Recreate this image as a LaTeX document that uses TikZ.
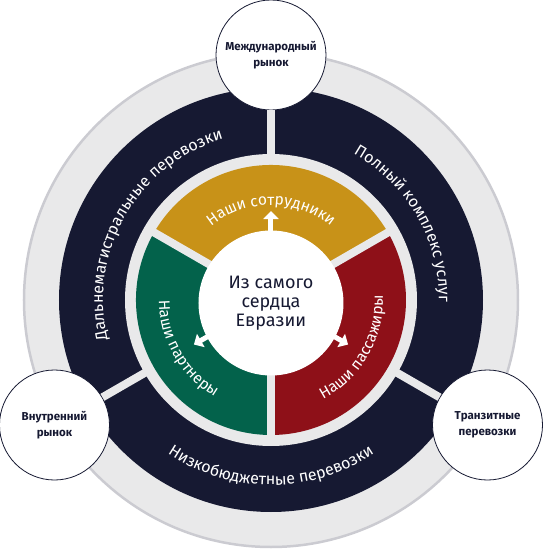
\documentclass[tikz,border=0pt]{standalone}
\usepackage{fontspec}
\setmainfont{Fira Sans}
\usetikzlibrary{positioning, arrows.meta, decorations.text}

\definecolor{navy}{RGB}{22,25,50}
\definecolor{gold}{RGB}{200,146,24}
\definecolor{forest}{RGB}{3,98,75}
\definecolor{crimson}{RGB}{142,16,24}
\definecolor{ringgray}{RGB}{233,233,234}
\definecolor{edgegray}{RGB}{203,203,209}

\newcommand{\ringfont}{\fontsize{16}{16}\selectfont}
\newcommand{\segfont}{\fontsize{15.5}{15.5}\selectfont}

\tikzstyle{market} = [circle, draw=navy, line width=0.8pt, fill=white, minimum size=110pt, inner sep=0pt, align=center, text=navy, font=\fontsize{11.5}{16}\selectfont\bfseries]
\tikzstyle{gap} = [ringgray, line width=8pt]
\tikzstyle{outarrow} = [white, line width=5pt, -{Triangle[width=15pt,length=8pt]}]
\tikzstyle{arctext} = [decorate, decoration={text along path, text align=center, text color=white}]

\begin{document}
\begin{tikzpicture}[x=1pt, y=1pt]
  \useasboundingbox (-271,-255) rectangle (273,300);

  % Rings
  \draw[fill=ringgray, draw=edgegray, line width=2.5pt] (0,0) circle (247pt);
  \fill[navy] (0,0) circle (212pt);
  \fill[ringgray] (0,0) circle (146pt);

  % Inner segments
  \fill[gold] (0,0) -- (30:135pt) arc[start angle=30, end angle=150, radius=135pt] -- cycle;
  \fill[forest] (0,0) -- (150:135pt) arc[start angle=150, end angle=270, radius=135pt] -- cycle;
  \fill[crimson] (0,0) -- (270:135pt) arc[start angle=270, end angle=390, radius=135pt] -- cycle;
  \foreach \a in {30,150,270}
    \draw[gap] (0,0) -- (\a:140pt);

  % Centre
  \node[circle, fill=white, minimum size=145pt, inner sep=0pt, align=center, text=navy,
        font=\fontsize{18}{19}\selectfont] (heart) at (0,-3) {Из самого\\сердца\\Евразии};
  \foreach \a in {90,210,330}
    \draw[outarrow] (\a:66pt) -- (\a:89pt);

  % Markets
  \node[market] (intl) at (90:245pt) {Международный\\рынок};
  \node[market] (home) at (210:250pt) {Внутренний\\рынок};
  \node[market] (transit) at (330:250pt) {Транзитные\\перевозки};
  \draw[gap] (intl) -- (90:140pt);
  \draw[gap] (home) -- (210:140pt);
  \draw[gap] (transit) -- (330:140pt);

  % Outer ring labels
  \path[arctext, decoration={text={|\ringfont|Дальнемагистральные перевозки}}]
    (240:168pt) arc[start angle=240, end angle=60, radius=168pt];
  \path[arctext, decoration={text={|\ringfont|Полный комплекс услуг}}]
    (120:168pt) arc[start angle=120, end angle=-60, radius=168pt];
  \path[arctext, decoration={text={|\ringfont|Низкобюджетные перевозки}}]
    (180:185pt) arc[start angle=180, end angle=360, radius=185pt];

  % Inner segment labels
  \path[arctext, decoration={text={|\segfont|Наши сотрудники}}]
    (180:95pt) arc[start angle=180, end angle=0, radius=95pt];
  \path[arctext, decoration={text={|\segfont|Наши партнеры}}]
    (120:112pt) arc[start angle=120, end angle=300, radius=112pt];
  \path[arctext, decoration={text={|\segfont|Наши пассажиры}}]
    (240:112pt) arc[start angle=240, end angle=420, radius=112pt];
\end{tikzpicture}
\end{document}
